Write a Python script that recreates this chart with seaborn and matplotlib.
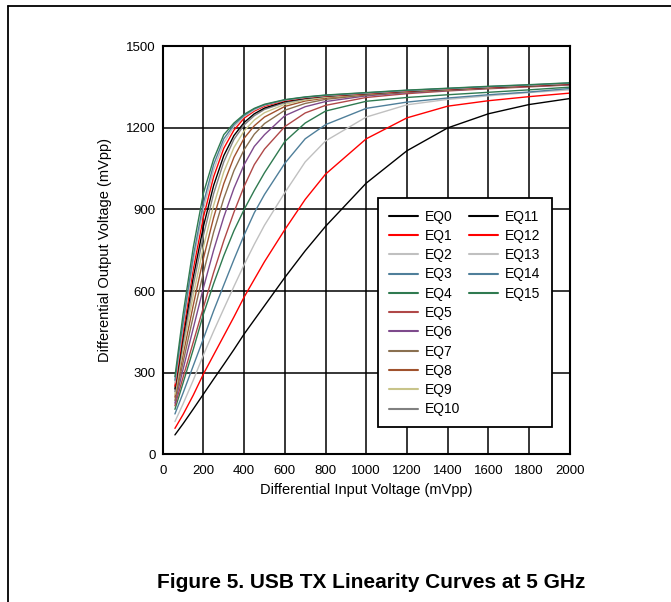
import pandas as pd
import matplotlib.pyplot as plt
from matplotlib.lines import Line2D
import seaborn as sns

sns.set_style("white")
plt.rcParams['font.family'] = ['Liberation Sans', 'DejaVu Sans']
plt.rcParams['text.color'] = 'black'
plt.rcParams['axes.labelcolor'] = 'black'

# input voltage (mVpp)
vin = [60, 100, 150, 200, 250, 300, 350, 400, 450, 500, 600, 700, 800, 1000, 1200, 1400, 1600, 1800, 2000]

# output voltage (mVpp) per EQ setting
eq0 = [71, 112, 166, 221, 276, 330, 385, 442, 494, 546, 650, 748, 838, 997, 1116, 1200, 1252, 1286, 1308]
eq1 = [95, 146, 217, 295, 365, 435, 505, 578, 643, 708, 826, 937, 1030, 1160, 1237, 1280, 1300, 1315, 1328]
eq2 = [120, 185, 272, 365, 452, 535, 617, 697, 772, 842, 962, 1075, 1152, 1240, 1285, 1305, 1318, 1330, 1340]
eq3 = [148, 225, 325, 425, 527, 622, 716, 806, 888, 955, 1070, 1160, 1212, 1272, 1295, 1310, 1322, 1332, 1345]
eq4 = [165, 262, 385, 515, 627, 730, 822, 900, 970, 1035, 1150, 1218, 1262, 1298, 1312, 1322, 1331, 1340, 1350]
eq5 = [178, 283, 412, 540, 668, 785, 890, 985, 1065, 1122, 1205, 1255, 1283, 1312, 1326, 1336, 1344, 1351, 1358]
eq6 = [188, 312, 463, 612, 750, 872, 978, 1065, 1132, 1175, 1245, 1278, 1297, 1318, 1330, 1338, 1346, 1353, 1359]
eq7 = [198, 338, 507, 668, 816, 940, 1043, 1120, 1177, 1216, 1265, 1290, 1305, 1321, 1332, 1339, 1347, 1354, 1360]
eq8 = [210, 365, 548, 720, 870, 995, 1092, 1162, 1208, 1240, 1279, 1299, 1310, 1324, 1333, 1340, 1347, 1354, 1361]
eq9 = [220, 388, 585, 762, 915, 1038, 1128, 1189, 1229, 1256, 1287, 1303, 1313, 1325, 1334, 1341, 1348, 1355, 1362]
eq10 = [230, 410, 620, 805, 958, 1075, 1158, 1211, 1245, 1268, 1293, 1307, 1316, 1326, 1335, 1342, 1349, 1356, 1362]
eq11 = [240, 430, 650, 838, 988, 1098, 1172, 1220, 1252, 1273, 1297, 1309, 1317, 1326, 1335, 1342, 1349, 1355, 1362]
eq12 = [250, 450, 680, 872, 1020, 1125, 1192, 1236, 1262, 1280, 1300, 1311, 1318, 1327, 1336, 1343, 1350, 1356, 1363]
eq13 = [262, 470, 708, 902, 1045, 1145, 1205, 1242, 1266, 1283, 1302, 1312, 1319, 1328, 1337, 1344, 1351, 1357, 1364]
eq14 = [272, 485, 728, 924, 1065, 1160, 1212, 1246, 1270, 1285, 1303, 1313, 1320, 1329, 1338, 1345, 1352, 1358, 1365]
eq15 = [285, 515, 760, 960, 1085, 1175, 1218, 1250, 1272, 1287, 1304, 1314, 1321, 1330, 1339, 1346, 1353, 1359, 1366]

names = ["EQ%d" % i for i in range(16)]
colors = ['#000000', '#ff0000', '#c0c0c0', '#4f7f9a', '#2f7a50', '#b04848',
          '#7e4a8c', '#8a7050', '#a0522d', '#c8c48a', '#808080',
          '#000000', '#ff0000', '#c0c0c0', '#4f7f9a', '#2f7a50']
curves = [eq0, eq1, eq2, eq3, eq4, eq5, eq6, eq7, eq8, eq9, eq10, eq11, eq12, eq13, eq14, eq15]

rows = []
for name, ys in zip(names, curves):
    for x, y in zip(vin, ys):
        rows.append((name, x, y))
df = pd.DataFrame(rows, columns=['eq', 'vin', 'vout'])

fig = plt.figure(figsize=(6.71, 6.02), dpi=100)
ax = fig.add_axes([0.2425, 0.2455, 0.6066, 0.6775])

sns.lineplot(data=df, x='vin', y='vout', hue='eq', hue_order=names,
             palette=dict(zip(names, colors)), linewidth=1.0,
             estimator=None, sort=False, legend=False, ax=ax)

ax.set_xlim(0, 2000)
ax.set_ylim(0, 1500)
ax.set_xticks(range(0, 2001, 200))
ax.set_yticks(range(0, 1501, 300))
ax.grid(True, color='black', linewidth=1.1)
ax.set_axisbelow(True)
for s in ax.spines.values():
    s.set_color('black')
    s.set_linewidth(1.5)
ax.tick_params(axis='x', length=0, pad=8, labelsize=9.5, colors='black')
ax.tick_params(axis='y', length=0, pad=5, labelsize=9.5, colors='black')
ax.set_xlabel('Differential Input Voltage (mVpp)', fontsize=10.5, labelpad=4)
ax.set_ylabel('Differential Output Voltage (mVpp)', fontsize=10.5, labelpad=10)

handles = [Line2D([], [], color=c, lw=1.5) for c in colors]
labels = list(names)
for k in range(6):
    handles.append(Line2D([], [], color='none'))
    labels.append('')
leg = ax.legend(handles, labels, ncol=2, loc='upper left', bbox_to_anchor=(0.529, 0.627),
                borderaxespad=0, frameon=True, fancybox=False, edgecolor='black',
                framealpha=1, fontsize=10, handlelength=2.1, handletextpad=0.5,
                columnspacing=0.6, labelspacing=0.38, borderpad=0.8)
leg.get_frame().set_linewidth(1.3)

fig.text(0.553, 0.032, 'Figure 5. USB TX Linearity Curves at 5 GHz',
         ha='center', va='center', fontsize=15, fontweight='bold', color='black')

fig.add_artist(Line2D([0.0119, 0.0119], [0, 0.990], color='black', lw=1.3, transform=fig.transFigure))
fig.add_artist(Line2D([0.0119, 1], [0.990, 0.990], color='black', lw=1.3, transform=fig.transFigure))

fig.savefig('out.png', dpi=100)
